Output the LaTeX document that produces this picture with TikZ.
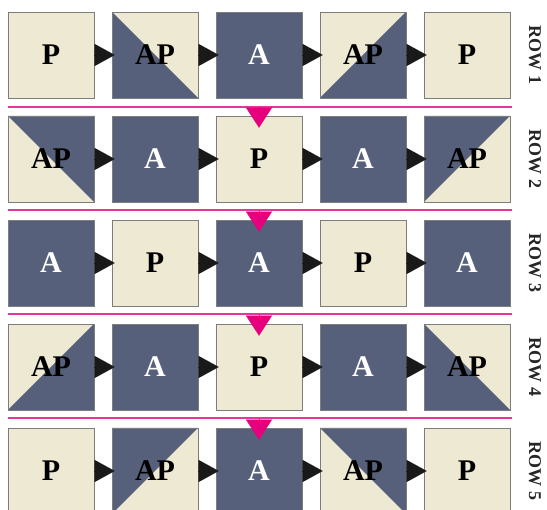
\documentclass[tikz,border=0pt]{standalone}
\usepackage{fontspec}
\setmainfont{Liberation Serif}
\usetikzlibrary{arrows.meta}
\definecolor{cream}{HTML}{EEE9D3}
\definecolor{slate}{HTML}{56607A}
\definecolor{cellgray}{HTML}{7D7D7D}
\definecolor{rulepink}{HTML}{E2389B}
\definecolor{markpink}{HTML}{E6007E}

\begin{document}
\begin{tikzpicture}[x=1pt, y=-1pt,
  cell/.style={draw=cellgray, line width=0.7pt, minimum width=86pt, minimum height=86pt,
               inner sep=0pt, font=\bfseries\fontsize{30}{30}\selectfont},
  pc/.style={cell, fill=cream, text=black},
  ac/.style={cell, fill=slate, text=white},
  apc/.style n args={3}{cell, fill=cream, text=black,
               path picture={\fill[slate] (path picture bounding box.#1) -- (path picture bounding box.#2)
                             -- (path picture bounding box.#3) -- cycle;}},
  flow/.style={-{Triangle[length=20pt,width=22pt]}, line width=0.1pt, black!90},
  dropflow/.style={-{Triangle[length=20pt,width=26pt]}, line width=0.1pt, markpink},
  divider/.style={rulepink, line width=1.6pt},
  rowlab/.style={rotate=-90, font=\bfseries\fontsize{18}{18}\selectfont, text=black!85},
]
\useasboundingbox (0,0) rectangle (547,510);

% Row 1
\node[pc] (b11) at (51,55) {P};
\node[apc={north west}{south west}{south east}] (b12) at (155,55) {AP};
\node[ac] (b13) at (259,55) {A};
\node[apc={south west}{south east}{north east}] (b14) at (363,55) {AP};
\node[pc] (b15) at (467,55) {P};

% Row 2
\node[apc={north west}{north east}{south east}] (b21) at (51,159) {AP};
\node[ac] (b22) at (155,159) {A};
\node[pc] (b23) at (259,159) {P};
\node[ac] (b24) at (363,159) {A};
\node[apc={north west}{north east}{south west}] (b25) at (467,159) {AP};

% Row 3
\node[ac] (b31) at (51,263) {A};
\node[pc] (b32) at (155,263) {P};
\node[ac] (b33) at (259,263) {A};
\node[pc] (b34) at (363,263) {P};
\node[ac] (b35) at (467,263) {A};

% Row 4
\node[apc={south west}{south east}{north east}] (b41) at (51,367) {AP};
\node[ac] (b42) at (155,367) {A};
\node[pc] (b43) at (259,367) {P};
\node[ac] (b44) at (363,367) {A};
\node[apc={north west}{south west}{south east}] (b45) at (467,367) {AP};

% Row 5
\node[pc] (b51) at (51,471) {P};
\node[apc={north west}{north east}{south west}] (b52) at (155,471) {AP};
\node[ac] (b53) at (259,471) {A};
\node[apc={north west}{north east}{south east}] (b54) at (363,471) {AP};
\node[pc] (b55) at (467,471) {P};

% pink rules between rows
\foreach \y in {107,210,314,418}{ \draw[divider] (8,\y) -- (512,\y); }

% arrows along each row, drops into the middle column
\foreach \r in {1,...,5}{
  \foreach \c/\n in {1/2,2/3,3/4,4/5}{ \draw[flow] (b\r\c.east) -- ([xshift=3pt]b\r\n.west); }
  \node[rowlab] (lab\r) at (535,\r*104-49) {ROW \r};
}
\foreach \r in {2,...,5}{ \draw[dropflow] ([yshift=9pt]b\r3.north) -- ([yshift=-12pt]b\r3.north); }
\end{tikzpicture}
\end{document}
